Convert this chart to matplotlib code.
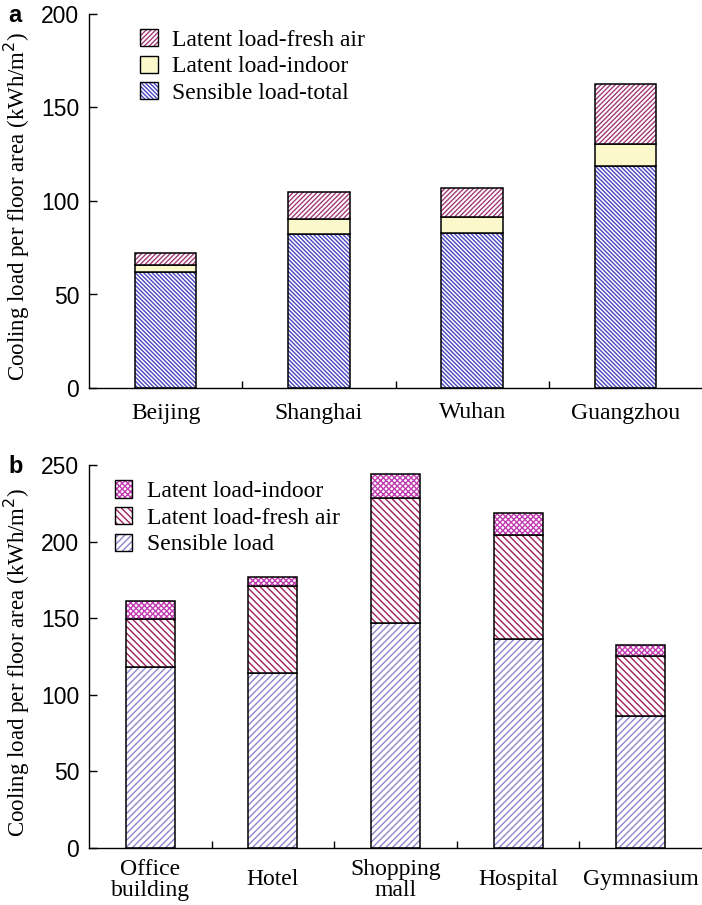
import numpy as np
import matplotlib.pyplot as plt
from matplotlib.patches import Patch

# panel a: cities
cities = ["Beijing", "Shanghai", "Wuhan", "Guangzhou"]
a_sensible = [62.0, 82.4, 82.9, 118.8]
a_indoor = [3.8, 8.0, 8.5, 11.7]
a_fresh = [6.4, 14.4, 15.6, 32.1]

# panel b: building types
buildings = ["Office\nbuilding", "Hotel", "Shopping\nmall", "Hospital", "Gymnasium"]
b_sensible = [118.0, 114.0, 147.0, 136.2, 86.0]
b_fresh = [31.5, 57.2, 81.7, 68.1, 39.3]
b_indoor = [11.7, 5.9, 15.4, 14.4, 7.2]

plt.rcParams['hatch.linewidth'] = 1.0
serif = ['Liberation Serif', 'DejaVu Serif']
sans = ['Liberation Sans', 'DejaVu Sans']

fig = plt.figure(figsize=(7.02, 9.05), dpi=100)
ax1 = fig.add_axes([89/702, 1-388/905, 613/702, 374/905])
ax2 = fig.add_axes([89/702, 1-848/905, 613/702, 383/905])

W = 0.40


def stack(ax, x, bottom, vals, hatch, hcol, face='white'):
    ax.bar(x, vals, W, bottom=bottom, color=face, edgecolor=hcol, hatch=hatch, linewidth=0)
    ax.bar(x, vals, W, bottom=bottom, fill=False, edgecolor='black', linewidth=1.1)
    h1 = Patch(facecolor=face, edgecolor=hcol, hatch=hatch, linewidth=0)
    h2 = Patch(fill=False, edgecolor='black', linewidth=1.0)
    return (h1, h2)


def style(ax, labels, ymax, pad):
    n = len(labels)
    ax.set_xlim(-0.5, n - 0.5)
    ax.set_ylim(0, ymax)
    ax.set_yticks(np.arange(0, ymax + 1, 50))
    ax.set_xticks(np.arange(n))
    ax.set_xticklabels(labels, fontfamily=serif, fontsize=17, linespacing=1.05, va='center')
    ax.set_xticks(np.arange(n - 1) + 0.5, minor=True)
    ax.tick_params(axis='x', which='major', length=0, pad=pad)
    ax.tick_params(axis='x', which='minor', direction='in', length=5, width=1)
    ax.tick_params(axis='y', direction='in', length=6, width=1, labelsize=16.5, pad=7)
    for t in ax.get_yticklabels():
        t.set_fontfamily(sans)
    ax.spines['top'].set_visible(False)
    ax.spines['right'].set_visible(False)
    ax.spines['left'].set_linewidth(1.0)
    ax.spines['bottom'].set_linewidth(1.0)
    ax.set_ylabel("Cooling load per floor area (kWh/m$^2$)", fontfamily=serif,
                  fontsize=16.5)
    ax.yaxis.set_label_coords(-0.093, 0.485)


x1 = np.arange(len(cities))
s1 = np.array(a_sensible)
i1 = np.array(a_indoor)
f1 = np.array(a_fresh)
hs = stack(ax1, x1, 0, s1, '\\' * 8, '#4a46c0')
hi = stack(ax1, x1, s1, i1, '', '#4a46c0', face='#fbf9cc')
hf = stack(ax1, x1, s1 + i1, f1, '/' * 7, '#a23a78')
style(ax1, cities, 200, 18)
ax1.legend([hf, hi, hs], ["Latent load-fresh air", "Latent load-indoor", "Sensible load-total"],
           loc='upper left', bbox_to_anchor=(0.083, 0.96), frameon=False,
           prop={'family': serif, 'size': 17}, handlelength=0.75, handleheight=0.75,
           handletextpad=0.6, labelspacing=0.2, borderaxespad=0, borderpad=0)

x2 = np.arange(len(buildings))
s2 = np.array(b_sensible)
f2 = np.array(b_fresh)
i2 = np.array(b_indoor)
gs = stack(ax2, x2, 0, s2, '/' * 5, '#8f86d0')
gf = stack(ax2, x2, s2, f2, '\\' * 5, '#a0205e')
gi = stack(ax2, x2, s2 + f2, i2, 'x' * 6, '#c13cb0')
style(ax2, buildings, 250, 23)
ax2.legend([gi, gf, gs], ["Latent load-indoor", "Latent load-fresh air", "Sensible load"],
           loc='upper left', bbox_to_anchor=(0.042, 0.96), frameon=False,
           prop={'family': serif, 'size': 17}, handlelength=0.75, handleheight=0.75,
           handletextpad=0.6, labelspacing=0.2, borderaxespad=0, borderpad=0)

fig.text(8/702, 1-16/905, "a", fontfamily=sans, fontweight='bold', fontsize=17, va='center')
fig.text(8/702, 1-466/905, "b", fontfamily=sans, fontweight='bold', fontsize=17, va='center')

fig.savefig("out.png", dpi=100)
